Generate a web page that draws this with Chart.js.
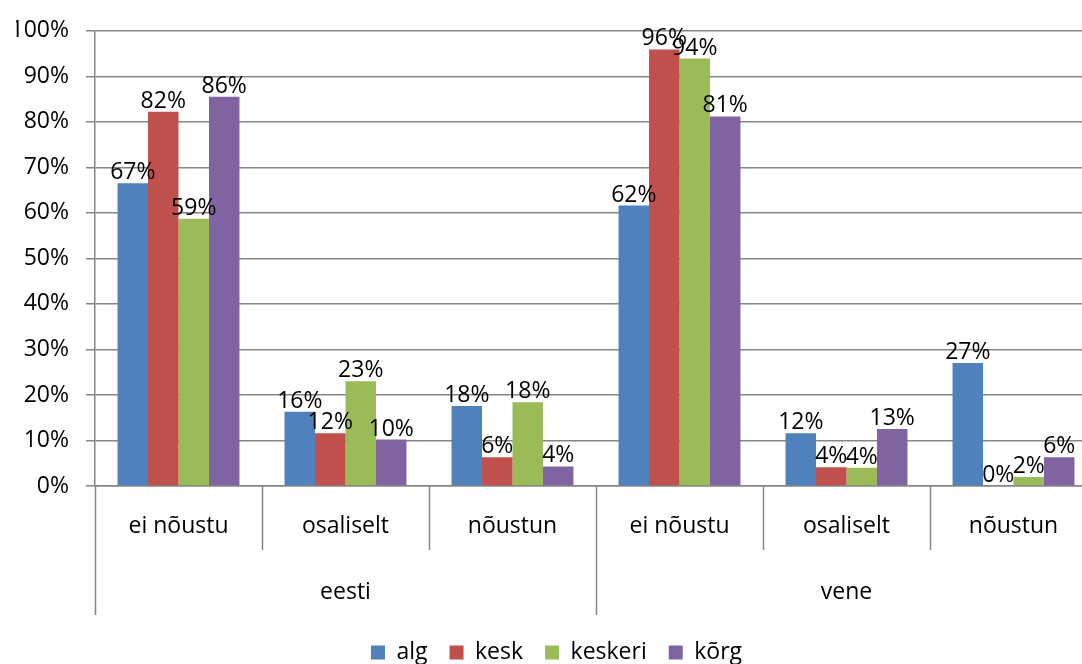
<!DOCTYPE html>
<html>
<head>
<meta charset="utf-8">
<script src="https://cdn.jsdelivr.net/npm/chart.js@4.4.1/dist/chart.umd.min.js"></script>
<style>
  html, body { margin: 0; padding: 0; background: #fff; overflow: hidden; }
  #wrap { width: 1100px; height: 664px; }
</style>
</head>
<body>
<div id="wrap"><canvas id="chart" width="1100" height="664"></canvas></div>
<script>
const categories = ["ei nõustu", "osaliselt", "nõustun", "ei nõustu", "osaliselt", "nõustun"]
const groups = ["eesti", "vene"]
const groupSize = 3
const seriesNames = ["alg", "kesk", "keskeri", "kõrg"]
const algValues = [66.5, 16.3, 17.6, 61.6, 11.6, 27.0]
const keskValues = [82.2, 11.6, 6.3, 95.9, 4.1, 0]
const keskeriValues = [58.7, 23.0, 18.4, 93.9, 4.0, 2.0]
const korgValues = [85.5, 10.2, 4.3, 81.2, 12.5, 6.3]
const yMax = 100
const yStep = 10

const colors = ["#4F81BD", "#C0504D", "#9BBB59", "#8064A2"]
const gridColor = "#868686"
const fontFamily = "'Open Sans', sans-serif"
const fontSize = 23

// value labels above every bar
const barLabels = {
  id: "barLabels",
  afterDatasetsDraw(chart) {
    const ctx = chart.ctx
    ctx.save()
    ctx.font = fontSize + "px " + fontFamily
    ctx.fillStyle = "#000"
    ctx.textAlign = "center"
    ctx.textBaseline = "alphabetic"
    chart.data.datasets.forEach((ds, i) => {
      chart.getDatasetMeta(i).data.forEach((bar, j) => {
        ctx.fillText(Math.round(ds.data[j]) + "%", bar.x, bar.y - 4)
      })
    })
    ctx.restore()
  }
}

// separators and second level (eesti / vene) of the category axis
const groupAxis = {
  id: "groupAxis",
  afterDraw(chart) {
    const x = chart.scales.x
    const area = chart.chartArea
    const ctx = chart.ctx
    const step = x.getPixelForValue(1) - x.getPixelForValue(0)
    ctx.save()
    ctx.strokeStyle = gridColor
    ctx.lineWidth = 1.5
    for (let i = 0; i <= categories.length; i++) {
      const px = Math.round(x.getPixelForValue(i) - step / 2) + 0.5
      const long = i % groupSize === 0
      ctx.beginPath()
      ctx.moveTo(px, area.bottom)
      ctx.lineTo(px, area.bottom + (long ? 129 : 64))
      ctx.stroke()
    }
    ctx.font = fontSize + "px " + fontFamily
    ctx.fillStyle = "#000"
    ctx.textAlign = "center"
    ctx.textBaseline = "middle"
    groups.forEach((g, k) => {
      const left = x.getPixelForValue(k * groupSize) - step / 2
      ctx.fillText(g, left + (groupSize * step) / 2, area.bottom + 106)
    })
    ctx.restore()
  }
}

Chart.defaults.font.family = fontFamily
Chart.defaults.font.size = fontSize
Chart.defaults.color = "#000"

const chartData = {
  labels: categories,
  datasets: [algValues, keskValues, keskeriValues, korgValues].map((vals, i) => ({
    label: seriesNames[i],
    data: vals,
    backgroundColor: colors[i],
    borderWidth: 0,
    barPercentage: 1,
    categoryPercentage: 0.73
  }))
}

new Chart(document.getElementById("chart"), {
  type: "bar",
  data: chartData,
  options: {
    responsive: false,
    animation: false,
    layout: {
      padding: { top: 23, right: 3, left: 16, bottom: -10 }
    },
    scales: {
      x: {
        grid: { display: false, drawTicks: false },
        border: { display: true, color: gridColor, width: 1.5 },
        ticks: { padding: 27, maxRotation: 0, autoSkip: false },
        afterFit(scale) { scale.height = 133 }
      },
      y: {
        min: 0,
        max: yMax,
        ticks: {
          stepSize: yStep,
          padding: 17,
          callback: v => v + "%"
        },
        grid: { color: gridColor, lineWidth: 1.5, tickLength: 9 },
        border: { color: gridColor, width: 1.5 },
        afterFit(scale) { scale.width = 79 }
      }
    },
    plugins: {
      legend: {
        position: "bottom",
        labels: {
          boxWidth: 14,
          boxHeight: 14,
          padding: 22,
          font: { size: fontSize }
        }
      },
      tooltip: { enabled: false }
    }
  },
  plugins: [barLabels, groupAxis]
})
</script>
</body>
</html>
